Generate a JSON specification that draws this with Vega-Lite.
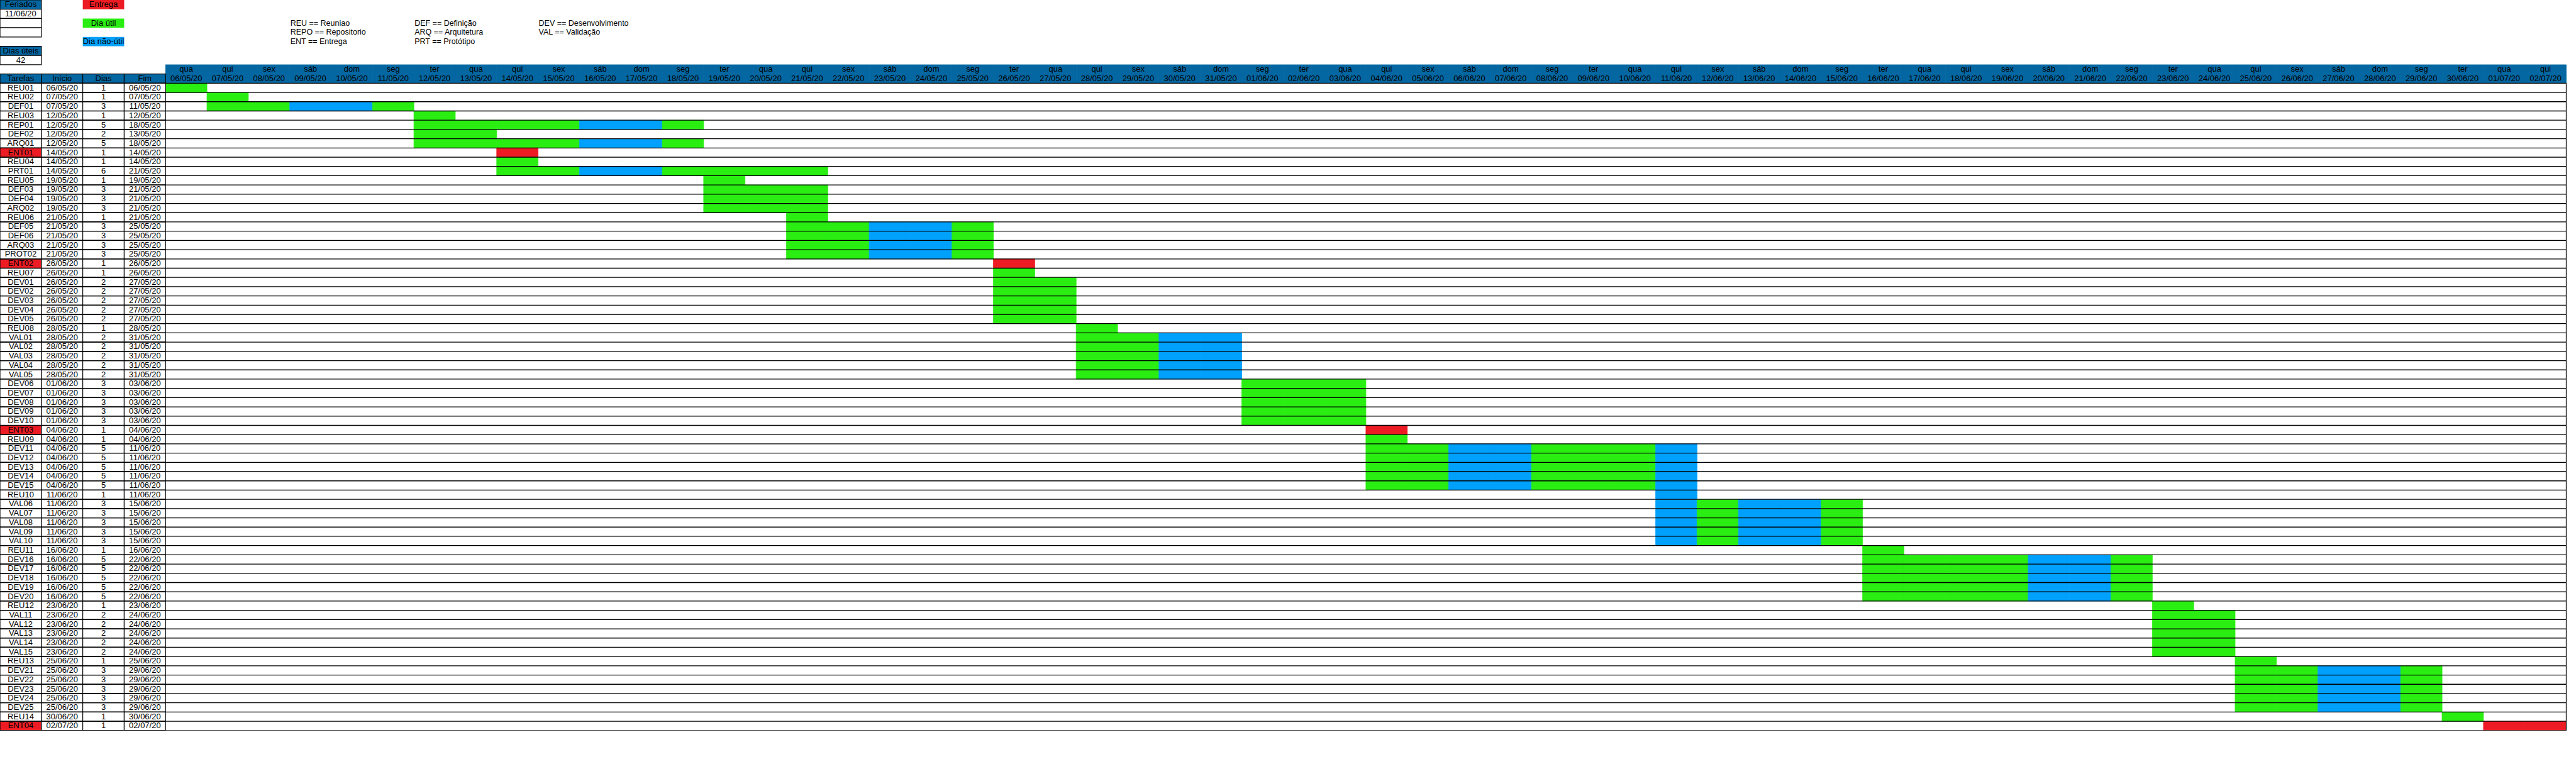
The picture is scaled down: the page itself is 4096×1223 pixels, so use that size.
{
  "$schema": "https://vega.github.io/schema/vega-lite/v6.json",
  "width": 4080.5,
  "height": 1161.8,
  "autosize": {"type": "none"},
  "padding": 0,
  "background": "white",
  "config": {"view": {"stroke": null}},
  "datasets": {
    "dias": [
      {"data":"06/05/20","semana":"qua"},{"data":"07/05/20","semana":"qui"},{"data":"08/05/20","semana":"sex"},{"data":"09/05/20","semana":"sáb"},{"data":"10/05/20","semana":"dom"},{"data":"11/05/20","semana":"seg"},{"data":"12/05/20","semana":"ter"},
      {"data":"13/05/20","semana":"qua"},{"data":"14/05/20","semana":"qui"},{"data":"15/05/20","semana":"sex"},{"data":"16/05/20","semana":"sáb"},{"data":"17/05/20","semana":"dom"},{"data":"18/05/20","semana":"seg"},{"data":"19/05/20","semana":"ter"},
      {"data":"20/05/20","semana":"qua"},{"data":"21/05/20","semana":"qui"},{"data":"22/05/20","semana":"sex"},{"data":"23/05/20","semana":"sáb"},{"data":"24/05/20","semana":"dom"},{"data":"25/05/20","semana":"seg"},{"data":"26/05/20","semana":"ter"},
      {"data":"27/05/20","semana":"qua"},{"data":"28/05/20","semana":"qui"},{"data":"29/05/20","semana":"sex"},{"data":"30/05/20","semana":"sáb"},{"data":"31/05/20","semana":"dom"},{"data":"01/06/20","semana":"seg"},{"data":"02/06/20","semana":"ter"},
      {"data":"03/06/20","semana":"qua"},{"data":"04/06/20","semana":"qui"},{"data":"05/06/20","semana":"sex"},{"data":"06/06/20","semana":"sáb"},{"data":"07/06/20","semana":"dom"},{"data":"08/06/20","semana":"seg"},{"data":"09/06/20","semana":"ter"},
      {"data":"10/06/20","semana":"qua"},{"data":"11/06/20","semana":"qui"},{"data":"12/06/20","semana":"sex"},{"data":"13/06/20","semana":"sáb"},{"data":"14/06/20","semana":"dom"},{"data":"15/06/20","semana":"seg"},{"data":"16/06/20","semana":"ter"},
      {"data":"17/06/20","semana":"qua"},{"data":"18/06/20","semana":"qui"},{"data":"19/06/20","semana":"sex"},{"data":"20/06/20","semana":"sáb"},{"data":"21/06/20","semana":"dom"},{"data":"22/06/20","semana":"seg"},{"data":"23/06/20","semana":"ter"},
      {"data":"24/06/20","semana":"qua"},{"data":"25/06/20","semana":"qui"},{"data":"26/06/20","semana":"sex"},{"data":"27/06/20","semana":"sáb"},{"data":"28/06/20","semana":"dom"},{"data":"29/06/20","semana":"seg"},{"data":"30/06/20","semana":"ter"},
      {"data":"01/07/20","semana":"qua"},{"data":"02/07/20","semana":"qui"}
    ],
    "tarefas": [
      {"Tarefas":"REU01","Início":"06/05/20","Dias":1,"Fim":"06/05/20"},
      {"Tarefas":"REU02","Início":"07/05/20","Dias":1,"Fim":"07/05/20"},
      {"Tarefas":"DEF01","Início":"07/05/20","Dias":3,"Fim":"11/05/20"},
      {"Tarefas":"REU03","Início":"12/05/20","Dias":1,"Fim":"12/05/20"},
      {"Tarefas":"REP01","Início":"12/05/20","Dias":5,"Fim":"18/05/20"},
      {"Tarefas":"DEF02","Início":"12/05/20","Dias":2,"Fim":"13/05/20"},
      {"Tarefas":"ARQ01","Início":"12/05/20","Dias":5,"Fim":"18/05/20"},
      {"Tarefas":"ENT01","Início":"14/05/20","Dias":1,"Fim":"14/05/20"},
      {"Tarefas":"REU04","Início":"14/05/20","Dias":1,"Fim":"14/05/20"},
      {"Tarefas":"PRT01","Início":"14/05/20","Dias":6,"Fim":"21/05/20"},
      {"Tarefas":"REU05","Início":"19/05/20","Dias":1,"Fim":"19/05/20"},
      {"Tarefas":"DEF03","Início":"19/05/20","Dias":3,"Fim":"21/05/20"},
      {"Tarefas":"DEF04","Início":"19/05/20","Dias":3,"Fim":"21/05/20"},
      {"Tarefas":"ARQ02","Início":"19/05/20","Dias":3,"Fim":"21/05/20"},
      {"Tarefas":"REU06","Início":"21/05/20","Dias":1,"Fim":"21/05/20"},
      {"Tarefas":"DEF05","Início":"21/05/20","Dias":3,"Fim":"25/05/20"},
      {"Tarefas":"DEF06","Início":"21/05/20","Dias":3,"Fim":"25/05/20"},
      {"Tarefas":"ARQ03","Início":"21/05/20","Dias":3,"Fim":"25/05/20"},
      {"Tarefas":"PROT02","Início":"21/05/20","Dias":3,"Fim":"25/05/20"},
      {"Tarefas":"ENT02","Início":"26/05/20","Dias":1,"Fim":"26/05/20"},
      {"Tarefas":"REU07","Início":"26/05/20","Dias":1,"Fim":"26/05/20"},
      {"Tarefas":"DEV01","Início":"26/05/20","Dias":2,"Fim":"27/05/20"},
      {"Tarefas":"DEV02","Início":"26/05/20","Dias":2,"Fim":"27/05/20"},
      {"Tarefas":"DEV03","Início":"26/05/20","Dias":2,"Fim":"27/05/20"},
      {"Tarefas":"DEV04","Início":"26/05/20","Dias":2,"Fim":"27/05/20"},
      {"Tarefas":"DEV05","Início":"26/05/20","Dias":2,"Fim":"27/05/20"},
      {"Tarefas":"REU08","Início":"28/05/20","Dias":1,"Fim":"28/05/20"},
      {"Tarefas":"VAL01","Início":"28/05/20","Dias":2,"Fim":"31/05/20"},
      {"Tarefas":"VAL02","Início":"28/05/20","Dias":2,"Fim":"31/05/20"},
      {"Tarefas":"VAL03","Início":"28/05/20","Dias":2,"Fim":"31/05/20"},
      {"Tarefas":"VAL04","Início":"28/05/20","Dias":2,"Fim":"31/05/20"},
      {"Tarefas":"VAL05","Início":"28/05/20","Dias":2,"Fim":"31/05/20"},
      {"Tarefas":"DEV06","Início":"01/06/20","Dias":3,"Fim":"03/06/20"},
      {"Tarefas":"DEV07","Início":"01/06/20","Dias":3,"Fim":"03/06/20"},
      {"Tarefas":"DEV08","Início":"01/06/20","Dias":3,"Fim":"03/06/20"},
      {"Tarefas":"DEV09","Início":"01/06/20","Dias":3,"Fim":"03/06/20"},
      {"Tarefas":"DEV10","Início":"01/06/20","Dias":3,"Fim":"03/06/20"},
      {"Tarefas":"ENT03","Início":"04/06/20","Dias":1,"Fim":"04/06/20"},
      {"Tarefas":"REU09","Início":"04/06/20","Dias":1,"Fim":"04/06/20"},
      {"Tarefas":"DEV11","Início":"04/06/20","Dias":5,"Fim":"11/06/20"},
      {"Tarefas":"DEV12","Início":"04/06/20","Dias":5,"Fim":"11/06/20"},
      {"Tarefas":"DEV13","Início":"04/06/20","Dias":5,"Fim":"11/06/20"},
      {"Tarefas":"DEV14","Início":"04/06/20","Dias":5,"Fim":"11/06/20"},
      {"Tarefas":"DEV15","Início":"04/06/20","Dias":5,"Fim":"11/06/20"},
      {"Tarefas":"REU10","Início":"11/06/20","Dias":1,"Fim":"11/06/20"},
      {"Tarefas":"VAL06","Início":"11/06/20","Dias":3,"Fim":"15/06/20"},
      {"Tarefas":"VAL07","Início":"11/06/20","Dias":3,"Fim":"15/06/20"},
      {"Tarefas":"VAL08","Início":"11/06/20","Dias":3,"Fim":"15/06/20"},
      {"Tarefas":"VAL09","Início":"11/06/20","Dias":3,"Fim":"15/06/20"},
      {"Tarefas":"VAL10","Início":"11/06/20","Dias":3,"Fim":"15/06/20"},
      {"Tarefas":"REU11","Início":"16/06/20","Dias":1,"Fim":"16/06/20"},
      {"Tarefas":"DEV16","Início":"16/06/20","Dias":5,"Fim":"22/06/20"},
      {"Tarefas":"DEV17","Início":"16/06/20","Dias":5,"Fim":"22/06/20"},
      {"Tarefas":"DEV18","Início":"16/06/20","Dias":5,"Fim":"22/06/20"},
      {"Tarefas":"DEV19","Início":"16/06/20","Dias":5,"Fim":"22/06/20"},
      {"Tarefas":"DEV20","Início":"16/06/20","Dias":5,"Fim":"22/06/20"},
      {"Tarefas":"REU12","Início":"23/06/20","Dias":1,"Fim":"23/06/20"},
      {"Tarefas":"VAL11","Início":"23/06/20","Dias":2,"Fim":"24/06/20"},
      {"Tarefas":"VAL12","Início":"23/06/20","Dias":2,"Fim":"24/06/20"},
      {"Tarefas":"VAL13","Início":"23/06/20","Dias":2,"Fim":"24/06/20"},
      {"Tarefas":"VAL14","Início":"23/06/20","Dias":2,"Fim":"24/06/20"},
      {"Tarefas":"VAL15","Início":"23/06/20","Dias":2,"Fim":"24/06/20"},
      {"Tarefas":"REU13","Início":"25/06/20","Dias":1,"Fim":"25/06/20"},
      {"Tarefas":"DEV21","Início":"25/06/20","Dias":3,"Fim":"29/06/20"},
      {"Tarefas":"DEV22","Início":"25/06/20","Dias":3,"Fim":"29/06/20"},
      {"Tarefas":"DEV23","Início":"25/06/20","Dias":3,"Fim":"29/06/20"},
      {"Tarefas":"DEV24","Início":"25/06/20","Dias":3,"Fim":"29/06/20"},
      {"Tarefas":"DEV25","Início":"25/06/20","Dias":3,"Fim":"29/06/20"},
      {"Tarefas":"REU14","Início":"30/06/20","Dias":1,"Fim":"30/06/20"},
      {"Tarefas":"ENT04","Início":"02/07/20","Dias":1,"Fim":"02/07/20"}
    ],
    "cabecalho": [{"coluna":"Tarefas"},{"coluna":"Início"},{"coluna":"Dias"},{"coluna":"Fim"}],
    "celulas": [
      {"tarefa":"REU01","dia":"06/05/20","tipo":"Dia útil"},
      {"tarefa":"REU02","dia":"07/05/20","tipo":"Dia útil"},
      {"tarefa":"DEF01","dia":"07/05/20","tipo":"Dia útil"},{"tarefa":"DEF01","dia":"08/05/20","tipo":"Dia útil"},{"tarefa":"DEF01","dia":"09/05/20","tipo":"Dia não-útil"},{"tarefa":"DEF01","dia":"10/05/20","tipo":"Dia não-útil"},{"tarefa":"DEF01","dia":"11/05/20","tipo":"Dia útil"},
      {"tarefa":"REU03","dia":"12/05/20","tipo":"Dia útil"},
      {"tarefa":"REP01","dia":"12/05/20","tipo":"Dia útil"},{"tarefa":"REP01","dia":"13/05/20","tipo":"Dia útil"},{"tarefa":"REP01","dia":"14/05/20","tipo":"Dia útil"},{"tarefa":"REP01","dia":"15/05/20","tipo":"Dia útil"},{"tarefa":"REP01","dia":"16/05/20","tipo":"Dia não-útil"},{"tarefa":"REP01","dia":"17/05/20","tipo":"Dia não-útil"},{"tarefa":"REP01","dia":"18/05/20","tipo":"Dia útil"},
      {"tarefa":"DEF02","dia":"12/05/20","tipo":"Dia útil"},{"tarefa":"DEF02","dia":"13/05/20","tipo":"Dia útil"},
      {"tarefa":"ARQ01","dia":"12/05/20","tipo":"Dia útil"},{"tarefa":"ARQ01","dia":"13/05/20","tipo":"Dia útil"},{"tarefa":"ARQ01","dia":"14/05/20","tipo":"Dia útil"},{"tarefa":"ARQ01","dia":"15/05/20","tipo":"Dia útil"},{"tarefa":"ARQ01","dia":"16/05/20","tipo":"Dia não-útil"},{"tarefa":"ARQ01","dia":"17/05/20","tipo":"Dia não-útil"},{"tarefa":"ARQ01","dia":"18/05/20","tipo":"Dia útil"},
      {"tarefa":"ENT01","dia":"14/05/20","tipo":"Entrega"},
      {"tarefa":"REU04","dia":"14/05/20","tipo":"Dia útil"},
      {"tarefa":"PRT01","dia":"14/05/20","tipo":"Dia útil"},{"tarefa":"PRT01","dia":"15/05/20","tipo":"Dia útil"},{"tarefa":"PRT01","dia":"16/05/20","tipo":"Dia não-útil"},{"tarefa":"PRT01","dia":"17/05/20","tipo":"Dia não-útil"},{"tarefa":"PRT01","dia":"18/05/20","tipo":"Dia útil"},{"tarefa":"PRT01","dia":"19/05/20","tipo":"Dia útil"},{"tarefa":"PRT01","dia":"20/05/20","tipo":"Dia útil"},{"tarefa":"PRT01","dia":"21/05/20","tipo":"Dia útil"},
      {"tarefa":"REU05","dia":"19/05/20","tipo":"Dia útil"},
      {"tarefa":"DEF03","dia":"19/05/20","tipo":"Dia útil"},{"tarefa":"DEF03","dia":"20/05/20","tipo":"Dia útil"},{"tarefa":"DEF03","dia":"21/05/20","tipo":"Dia útil"},
      {"tarefa":"DEF04","dia":"19/05/20","tipo":"Dia útil"},{"tarefa":"DEF04","dia":"20/05/20","tipo":"Dia útil"},{"tarefa":"DEF04","dia":"21/05/20","tipo":"Dia útil"},
      {"tarefa":"ARQ02","dia":"19/05/20","tipo":"Dia útil"},{"tarefa":"ARQ02","dia":"20/05/20","tipo":"Dia útil"},{"tarefa":"ARQ02","dia":"21/05/20","tipo":"Dia útil"},
      {"tarefa":"REU06","dia":"21/05/20","tipo":"Dia útil"},
      {"tarefa":"DEF05","dia":"21/05/20","tipo":"Dia útil"},{"tarefa":"DEF05","dia":"22/05/20","tipo":"Dia útil"},{"tarefa":"DEF05","dia":"23/05/20","tipo":"Dia não-útil"},{"tarefa":"DEF05","dia":"24/05/20","tipo":"Dia não-útil"},{"tarefa":"DEF05","dia":"25/05/20","tipo":"Dia útil"},
      {"tarefa":"DEF06","dia":"21/05/20","tipo":"Dia útil"},{"tarefa":"DEF06","dia":"22/05/20","tipo":"Dia útil"},{"tarefa":"DEF06","dia":"23/05/20","tipo":"Dia não-útil"},{"tarefa":"DEF06","dia":"24/05/20","tipo":"Dia não-útil"},{"tarefa":"DEF06","dia":"25/05/20","tipo":"Dia útil"},
      {"tarefa":"ARQ03","dia":"21/05/20","tipo":"Dia útil"},{"tarefa":"ARQ03","dia":"22/05/20","tipo":"Dia útil"},{"tarefa":"ARQ03","dia":"23/05/20","tipo":"Dia não-útil"},{"tarefa":"ARQ03","dia":"24/05/20","tipo":"Dia não-útil"},{"tarefa":"ARQ03","dia":"25/05/20","tipo":"Dia útil"},
      {"tarefa":"PROT02","dia":"21/05/20","tipo":"Dia útil"},{"tarefa":"PROT02","dia":"22/05/20","tipo":"Dia útil"},{"tarefa":"PROT02","dia":"23/05/20","tipo":"Dia não-útil"},{"tarefa":"PROT02","dia":"24/05/20","tipo":"Dia não-útil"},{"tarefa":"PROT02","dia":"25/05/20","tipo":"Dia útil"},
      {"tarefa":"ENT02","dia":"26/05/20","tipo":"Entrega"},
      {"tarefa":"REU07","dia":"26/05/20","tipo":"Dia útil"},
      {"tarefa":"DEV01","dia":"26/05/20","tipo":"Dia útil"},{"tarefa":"DEV01","dia":"27/05/20","tipo":"Dia útil"},
      {"tarefa":"DEV02","dia":"26/05/20","tipo":"Dia útil"},{"tarefa":"DEV02","dia":"27/05/20","tipo":"Dia útil"},
      {"tarefa":"DEV03","dia":"26/05/20","tipo":"Dia útil"},{"tarefa":"DEV03","dia":"27/05/20","tipo":"Dia útil"},
      {"tarefa":"DEV04","dia":"26/05/20","tipo":"Dia útil"},{"tarefa":"DEV04","dia":"27/05/20","tipo":"Dia útil"},
      {"tarefa":"DEV05","dia":"26/05/20","tipo":"Dia útil"},{"tarefa":"DEV05","dia":"27/05/20","tipo":"Dia útil"},
      {"tarefa":"REU08","dia":"28/05/20","tipo":"Dia útil"},
      {"tarefa":"VAL01","dia":"28/05/20","tipo":"Dia útil"},{"tarefa":"VAL01","dia":"29/05/20","tipo":"Dia útil"},{"tarefa":"VAL01","dia":"30/05/20","tipo":"Dia não-útil"},{"tarefa":"VAL01","dia":"31/05/20","tipo":"Dia não-útil"},
      {"tarefa":"VAL02","dia":"28/05/20","tipo":"Dia útil"},{"tarefa":"VAL02","dia":"29/05/20","tipo":"Dia útil"},{"tarefa":"VAL02","dia":"30/05/20","tipo":"Dia não-útil"},{"tarefa":"VAL02","dia":"31/05/20","tipo":"Dia não-útil"},
      {"tarefa":"VAL03","dia":"28/05/20","tipo":"Dia útil"},{"tarefa":"VAL03","dia":"29/05/20","tipo":"Dia útil"},{"tarefa":"VAL03","dia":"30/05/20","tipo":"Dia não-útil"},{"tarefa":"VAL03","dia":"31/05/20","tipo":"Dia não-útil"},
      {"tarefa":"VAL04","dia":"28/05/20","tipo":"Dia útil"},{"tarefa":"VAL04","dia":"29/05/20","tipo":"Dia útil"},{"tarefa":"VAL04","dia":"30/05/20","tipo":"Dia não-útil"},{"tarefa":"VAL04","dia":"31/05/20","tipo":"Dia não-útil"},
      {"tarefa":"VAL05","dia":"28/05/20","tipo":"Dia útil"},{"tarefa":"VAL05","dia":"29/05/20","tipo":"Dia útil"},{"tarefa":"VAL05","dia":"30/05/20","tipo":"Dia não-útil"},{"tarefa":"VAL05","dia":"31/05/20","tipo":"Dia não-útil"},
      {"tarefa":"DEV06","dia":"01/06/20","tipo":"Dia útil"},{"tarefa":"DEV06","dia":"02/06/20","tipo":"Dia útil"},{"tarefa":"DEV06","dia":"03/06/20","tipo":"Dia útil"},
      {"tarefa":"DEV07","dia":"01/06/20","tipo":"Dia útil"},{"tarefa":"DEV07","dia":"02/06/20","tipo":"Dia útil"},{"tarefa":"DEV07","dia":"03/06/20","tipo":"Dia útil"},
      {"tarefa":"DEV08","dia":"01/06/20","tipo":"Dia útil"},{"tarefa":"DEV08","dia":"02/06/20","tipo":"Dia útil"},{"tarefa":"DEV08","dia":"03/06/20","tipo":"Dia útil"},
      {"tarefa":"DEV09","dia":"01/06/20","tipo":"Dia útil"},{"tarefa":"DEV09","dia":"02/06/20","tipo":"Dia útil"},{"tarefa":"DEV09","dia":"03/06/20","tipo":"Dia útil"},
      {"tarefa":"DEV10","dia":"01/06/20","tipo":"Dia útil"},{"tarefa":"DEV10","dia":"02/06/20","tipo":"Dia útil"},{"tarefa":"DEV10","dia":"03/06/20","tipo":"Dia útil"},
      {"tarefa":"ENT03","dia":"04/06/20","tipo":"Entrega"},
      {"tarefa":"REU09","dia":"04/06/20","tipo":"Dia útil"},
      {"tarefa":"DEV11","dia":"04/06/20","tipo":"Dia útil"},{"tarefa":"DEV11","dia":"05/06/20","tipo":"Dia útil"},{"tarefa":"DEV11","dia":"06/06/20","tipo":"Dia não-útil"},{"tarefa":"DEV11","dia":"07/06/20","tipo":"Dia não-útil"},{"tarefa":"DEV11","dia":"08/06/20","tipo":"Dia útil"},{"tarefa":"DEV11","dia":"09/06/20","tipo":"Dia útil"},{"tarefa":"DEV11","dia":"10/06/20","tipo":"Dia útil"},{"tarefa":"DEV11","dia":"11/06/20","tipo":"Dia não-útil"},
      {"tarefa":"DEV12","dia":"04/06/20","tipo":"Dia útil"},{"tarefa":"DEV12","dia":"05/06/20","tipo":"Dia útil"},{"tarefa":"DEV12","dia":"06/06/20","tipo":"Dia não-útil"},{"tarefa":"DEV12","dia":"07/06/20","tipo":"Dia não-útil"},{"tarefa":"DEV12","dia":"08/06/20","tipo":"Dia útil"},{"tarefa":"DEV12","dia":"09/06/20","tipo":"Dia útil"},{"tarefa":"DEV12","dia":"10/06/20","tipo":"Dia útil"},{"tarefa":"DEV12","dia":"11/06/20","tipo":"Dia não-útil"},
      {"tarefa":"DEV13","dia":"04/06/20","tipo":"Dia útil"},{"tarefa":"DEV13","dia":"05/06/20","tipo":"Dia útil"},{"tarefa":"DEV13","dia":"06/06/20","tipo":"Dia não-útil"},{"tarefa":"DEV13","dia":"07/06/20","tipo":"Dia não-útil"},{"tarefa":"DEV13","dia":"08/06/20","tipo":"Dia útil"},{"tarefa":"DEV13","dia":"09/06/20","tipo":"Dia útil"},{"tarefa":"DEV13","dia":"10/06/20","tipo":"Dia útil"},{"tarefa":"DEV13","dia":"11/06/20","tipo":"Dia não-útil"},
      {"tarefa":"DEV14","dia":"04/06/20","tipo":"Dia útil"},{"tarefa":"DEV14","dia":"05/06/20","tipo":"Dia útil"},{"tarefa":"DEV14","dia":"06/06/20","tipo":"Dia não-útil"},{"tarefa":"DEV14","dia":"07/06/20","tipo":"Dia não-útil"},{"tarefa":"DEV14","dia":"08/06/20","tipo":"Dia útil"},{"tarefa":"DEV14","dia":"09/06/20","tipo":"Dia útil"},{"tarefa":"DEV14","dia":"10/06/20","tipo":"Dia útil"},{"tarefa":"DEV14","dia":"11/06/20","tipo":"Dia não-útil"},
      {"tarefa":"DEV15","dia":"04/06/20","tipo":"Dia útil"},{"tarefa":"DEV15","dia":"05/06/20","tipo":"Dia útil"},{"tarefa":"DEV15","dia":"06/06/20","tipo":"Dia não-útil"},{"tarefa":"DEV15","dia":"07/06/20","tipo":"Dia não-útil"},{"tarefa":"DEV15","dia":"08/06/20","tipo":"Dia útil"},{"tarefa":"DEV15","dia":"09/06/20","tipo":"Dia útil"},{"tarefa":"DEV15","dia":"10/06/20","tipo":"Dia útil"},{"tarefa":"DEV15","dia":"11/06/20","tipo":"Dia não-útil"},
      {"tarefa":"REU10","dia":"11/06/20","tipo":"Dia não-útil"},
      {"tarefa":"VAL06","dia":"11/06/20","tipo":"Dia não-útil"},{"tarefa":"VAL06","dia":"12/06/20","tipo":"Dia útil"},{"tarefa":"VAL06","dia":"13/06/20","tipo":"Dia não-útil"},{"tarefa":"VAL06","dia":"14/06/20","tipo":"Dia não-útil"},{"tarefa":"VAL06","dia":"15/06/20","tipo":"Dia útil"},
      {"tarefa":"VAL07","dia":"11/06/20","tipo":"Dia não-útil"},{"tarefa":"VAL07","dia":"12/06/20","tipo":"Dia útil"},{"tarefa":"VAL07","dia":"13/06/20","tipo":"Dia não-útil"},{"tarefa":"VAL07","dia":"14/06/20","tipo":"Dia não-útil"},{"tarefa":"VAL07","dia":"15/06/20","tipo":"Dia útil"},
      {"tarefa":"VAL08","dia":"11/06/20","tipo":"Dia não-útil"},{"tarefa":"VAL08","dia":"12/06/20","tipo":"Dia útil"},{"tarefa":"VAL08","dia":"13/06/20","tipo":"Dia não-útil"},{"tarefa":"VAL08","dia":"14/06/20","tipo":"Dia não-útil"},{"tarefa":"VAL08","dia":"15/06/20","tipo":"Dia útil"},
      {"tarefa":"VAL09","dia":"11/06/20","tipo":"Dia não-útil"},{"tarefa":"VAL09","dia":"12/06/20","tipo":"Dia útil"},{"tarefa":"VAL09","dia":"13/06/20","tipo":"Dia não-útil"},{"tarefa":"VAL09","dia":"14/06/20","tipo":"Dia não-útil"},{"tarefa":"VAL09","dia":"15/06/20","tipo":"Dia útil"},
      {"tarefa":"VAL10","dia":"11/06/20","tipo":"Dia não-útil"},{"tarefa":"VAL10","dia":"12/06/20","tipo":"Dia útil"},{"tarefa":"VAL10","dia":"13/06/20","tipo":"Dia não-útil"},{"tarefa":"VAL10","dia":"14/06/20","tipo":"Dia não-útil"},{"tarefa":"VAL10","dia":"15/06/20","tipo":"Dia útil"},
      {"tarefa":"REU11","dia":"16/06/20","tipo":"Dia útil"},
      {"tarefa":"DEV16","dia":"16/06/20","tipo":"Dia útil"},{"tarefa":"DEV16","dia":"17/06/20","tipo":"Dia útil"},{"tarefa":"DEV16","dia":"18/06/20","tipo":"Dia útil"},{"tarefa":"DEV16","dia":"19/06/20","tipo":"Dia útil"},{"tarefa":"DEV16","dia":"20/06/20","tipo":"Dia não-útil"},{"tarefa":"DEV16","dia":"21/06/20","tipo":"Dia não-útil"},{"tarefa":"DEV16","dia":"22/06/20","tipo":"Dia útil"},
      {"tarefa":"DEV17","dia":"16/06/20","tipo":"Dia útil"},{"tarefa":"DEV17","dia":"17/06/20","tipo":"Dia útil"},{"tarefa":"DEV17","dia":"18/06/20","tipo":"Dia útil"},{"tarefa":"DEV17","dia":"19/06/20","tipo":"Dia útil"},{"tarefa":"DEV17","dia":"20/06/20","tipo":"Dia não-útil"},{"tarefa":"DEV17","dia":"21/06/20","tipo":"Dia não-útil"},{"tarefa":"DEV17","dia":"22/06/20","tipo":"Dia útil"},
      {"tarefa":"DEV18","dia":"16/06/20","tipo":"Dia útil"},{"tarefa":"DEV18","dia":"17/06/20","tipo":"Dia útil"},{"tarefa":"DEV18","dia":"18/06/20","tipo":"Dia útil"},{"tarefa":"DEV18","dia":"19/06/20","tipo":"Dia útil"},{"tarefa":"DEV18","dia":"20/06/20","tipo":"Dia não-útil"},{"tarefa":"DEV18","dia":"21/06/20","tipo":"Dia não-útil"},{"tarefa":"DEV18","dia":"22/06/20","tipo":"Dia útil"},
      {"tarefa":"DEV19","dia":"16/06/20","tipo":"Dia útil"},{"tarefa":"DEV19","dia":"17/06/20","tipo":"Dia útil"},{"tarefa":"DEV19","dia":"18/06/20","tipo":"Dia útil"},{"tarefa":"DEV19","dia":"19/06/20","tipo":"Dia útil"},{"tarefa":"DEV19","dia":"20/06/20","tipo":"Dia não-útil"},{"tarefa":"DEV19","dia":"21/06/20","tipo":"Dia não-útil"},{"tarefa":"DEV19","dia":"22/06/20","tipo":"Dia útil"},
      {"tarefa":"DEV20","dia":"16/06/20","tipo":"Dia útil"},{"tarefa":"DEV20","dia":"17/06/20","tipo":"Dia útil"},{"tarefa":"DEV20","dia":"18/06/20","tipo":"Dia útil"},{"tarefa":"DEV20","dia":"19/06/20","tipo":"Dia útil"},{"tarefa":"DEV20","dia":"20/06/20","tipo":"Dia não-útil"},{"tarefa":"DEV20","dia":"21/06/20","tipo":"Dia não-útil"},{"tarefa":"DEV20","dia":"22/06/20","tipo":"Dia útil"},
      {"tarefa":"REU12","dia":"23/06/20","tipo":"Dia útil"},
      {"tarefa":"VAL11","dia":"23/06/20","tipo":"Dia útil"},{"tarefa":"VAL11","dia":"24/06/20","tipo":"Dia útil"},
      {"tarefa":"VAL12","dia":"23/06/20","tipo":"Dia útil"},{"tarefa":"VAL12","dia":"24/06/20","tipo":"Dia útil"},
      {"tarefa":"VAL13","dia":"23/06/20","tipo":"Dia útil"},{"tarefa":"VAL13","dia":"24/06/20","tipo":"Dia útil"},
      {"tarefa":"VAL14","dia":"23/06/20","tipo":"Dia útil"},{"tarefa":"VAL14","dia":"24/06/20","tipo":"Dia útil"},
      {"tarefa":"VAL15","dia":"23/06/20","tipo":"Dia útil"},{"tarefa":"VAL15","dia":"24/06/20","tipo":"Dia útil"},
      {"tarefa":"REU13","dia":"25/06/20","tipo":"Dia útil"},
      {"tarefa":"DEV21","dia":"25/06/20","tipo":"Dia útil"},{"tarefa":"DEV21","dia":"26/06/20","tipo":"Dia útil"},{"tarefa":"DEV21","dia":"27/06/20","tipo":"Dia não-útil"},{"tarefa":"DEV21","dia":"28/06/20","tipo":"Dia não-útil"},{"tarefa":"DEV21","dia":"29/06/20","tipo":"Dia útil"},
      {"tarefa":"DEV22","dia":"25/06/20","tipo":"Dia útil"},{"tarefa":"DEV22","dia":"26/06/20","tipo":"Dia útil"},{"tarefa":"DEV22","dia":"27/06/20","tipo":"Dia não-útil"},{"tarefa":"DEV22","dia":"28/06/20","tipo":"Dia não-útil"},{"tarefa":"DEV22","dia":"29/06/20","tipo":"Dia útil"},
      {"tarefa":"DEV23","dia":"25/06/20","tipo":"Dia útil"},{"tarefa":"DEV23","dia":"26/06/20","tipo":"Dia útil"},{"tarefa":"DEV23","dia":"27/06/20","tipo":"Dia não-útil"},{"tarefa":"DEV23","dia":"28/06/20","tipo":"Dia não-útil"},{"tarefa":"DEV23","dia":"29/06/20","tipo":"Dia útil"},
      {"tarefa":"DEV24","dia":"25/06/20","tipo":"Dia útil"},{"tarefa":"DEV24","dia":"26/06/20","tipo":"Dia útil"},{"tarefa":"DEV24","dia":"27/06/20","tipo":"Dia não-útil"},{"tarefa":"DEV24","dia":"28/06/20","tipo":"Dia não-útil"},{"tarefa":"DEV24","dia":"29/06/20","tipo":"Dia útil"},
      {"tarefa":"DEV25","dia":"25/06/20","tipo":"Dia útil"},{"tarefa":"DEV25","dia":"26/06/20","tipo":"Dia útil"},{"tarefa":"DEV25","dia":"27/06/20","tipo":"Dia não-útil"},{"tarefa":"DEV25","dia":"28/06/20","tipo":"Dia não-útil"},{"tarefa":"DEV25","dia":"29/06/20","tipo":"Dia útil"},
      {"tarefa":"REU14","dia":"30/06/20","tipo":"Dia útil"},
      {"tarefa":"ENT04","dia":"01/07/20","tipo":"Entrega"},{"tarefa":"ENT04","dia":"02/07/20","tipo":"Entrega"}
    ],
    "caixas": [
      {"texto":"Feriados","coluna":"Tarefas","linha":1,"tipo":"Cabeçalho"},
      {"texto":"11/06/20","coluna":"Tarefas","linha":2,"tipo":"Célula"},
      {"texto":"","coluna":"Tarefas","linha":3,"tipo":"Célula"},
      {"texto":"","coluna":"Tarefas","linha":4,"tipo":"Célula"},
      {"texto":"Dias úteis","coluna":"Tarefas","linha":6,"tipo":"Cabeçalho"},
      {"texto":"42","coluna":"Tarefas","linha":7,"tipo":"Célula"},
      {"texto":"Entrega","coluna":"Dias","linha":1,"tipo":"Entrega"},
      {"texto":"Dia útil","coluna":"Dias","linha":3,"tipo":"Dia útil"},
      {"texto":"Dia não-útil","coluna":"Dias","linha":5,"tipo":"Dia não-útil"}
    ],
    "legenda": [
      {"texto":"REU == Reuniao","coluna":"09/05/20","linha":3},
      {"texto":"REPO == Repositorio","coluna":"09/05/20","linha":4},
      {"texto":"ENT == Entrega","coluna":"09/05/20","linha":5},
      {"texto":"DEF == Definição","coluna":"12/05/20","linha":3},
      {"texto":"ARQ == Arquitetura","coluna":"12/05/20","linha":4},
      {"texto":"PRT == Protótipo","coluna":"12/05/20","linha":5},
      {"texto":"DEV == Desenvolvimento","coluna":"15/05/20","linha":3},
      {"texto":"VAL == Validação","coluna":"15/05/20","linha":4}
    ]
  },
  "layer": [
    {
      "data": {"name": "dias"},
      "mark": {"type": "rect", "fill": "#0467a2", "stroke": "#0467a2", "strokeWidth": 0.8},
      "encoding": {
        "x": {"field": "data", "type": "nominal", "axis": null,
          "scale": {"type": "band", "paddingInner": 0, "paddingOuter": 0,
            "domain": ["Tarefas","Início","Dias","Fim","06/05/20","07/05/20","08/05/20","09/05/20","10/05/20","11/05/20","12/05/20","13/05/20","14/05/20","15/05/20","16/05/20","17/05/20","18/05/20","19/05/20","20/05/20","21/05/20","22/05/20","23/05/20","24/05/20","25/05/20","26/05/20","27/05/20","28/05/20","29/05/20","30/05/20","31/05/20","01/06/20","02/06/20","03/06/20","04/06/20","05/06/20","06/06/20","07/06/20","08/06/20","09/06/20","10/06/20","11/06/20","12/06/20","13/06/20","14/06/20","15/06/20","16/06/20","17/06/20","18/06/20","19/06/20","20/06/20","21/06/20","22/06/20","23/06/20","24/06/20","25/06/20","26/06/20","27/06/20","28/06/20","29/06/20","30/06/20","01/07/20","02/07/20"]}},
        "y": {"datum": 8, "type": "nominal", "axis": null,
          "scale": {"type": "band", "paddingInner": 0, "paddingOuter": 0,
            "domain": [1,2,3,4,5,6,7,8,9,"REU01","REU02","DEF01","REU03","REP01","DEF02","ARQ01","ENT01","REU04","PRT01","REU05","DEF03","DEF04","ARQ02","REU06","DEF05","DEF06","ARQ03","PROT02","ENT02","REU07","DEV01","DEV02","DEV03","DEV04","DEV05","REU08","VAL01","VAL02","VAL03","VAL04","VAL05","DEV06","DEV07","DEV08","DEV09","DEV10","ENT03","REU09","DEV11","DEV12","DEV13","DEV14","DEV15","REU10","VAL06","VAL07","VAL08","VAL09","VAL10","REU11","DEV16","DEV17","DEV18","DEV19","DEV20","REU12","VAL11","VAL12","VAL13","VAL14","VAL15","REU13","DEV21","DEV22","DEV23","DEV24","DEV25","REU14","ENT04"]}}
      }
    },
    {
      "data": {"name": "dias"},
      "mark": {"type": "rect", "fill": "#0467a2", "stroke": "#0467a2", "strokeWidth": 0.8},
      "encoding": {
        "x": {"field": "data", "type": "nominal"},
        "y": {"datum": 9, "type": "nominal"}
      }
    },
    {
      "data": {"name": "dias"},
      "mark": {"type": "text", "font": "Liberation Sans", "fontSize": 13, "fill": "#000"},
      "encoding": {
        "x": {"field": "data", "type": "nominal"},
        "y": {"datum": 8, "type": "nominal"},
        "text": {"field": "semana"}
      }
    },
    {
      "data": {"name": "dias"},
      "mark": {"type": "text", "font": "Liberation Sans", "fontSize": 13, "fill": "#000"},
      "encoding": {
        "x": {"field": "data", "type": "nominal"},
        "y": {"datum": 9, "type": "nominal"},
        "text": {"field": "data"}
      }
    },
    {
      "data": {"name": "celulas"},
      "mark": {"type": "rect", "strokeWidth": 0.8},
      "encoding": {
        "x": {"field": "dia", "type": "nominal"},
        "y": {"field": "tarefa", "type": "nominal"},
        "color": {"field": "tipo", "type": "nominal", "legend": null,
          "scale": {"domain": ["Dia útil","Dia não-útil","Entrega"], "range": ["#2aee12","#00a0fd","#ed1c24"]}},
        "stroke": {"field": "tipo", "type": "nominal", "legend": null,
          "scale": {"domain": ["Dia útil","Dia não-útil","Entrega"], "range": ["#2aee12","#00a0fd","#ed1c24"]}}
      }
    },
    {
      "data": {"name": "cabecalho"},
      "mark": {"type": "rect", "fill": "#0467a2", "stroke": "#000", "strokeWidth": 1.2},
      "encoding": {
        "x": {"field": "coluna", "type": "nominal"},
        "y": {"datum": 9, "type": "nominal"}
      }
    },
    {
      "data": {"name": "cabecalho"},
      "mark": {"type": "text", "font": "Liberation Sans", "fontSize": 13, "fill": "#000"},
      "encoding": {
        "x": {"field": "coluna", "type": "nominal"},
        "y": {"datum": 9, "type": "nominal"},
        "text": {"field": "coluna"}
      }
    },
    {
      "data": {"name": "tarefas"},
      "transform": [{"fold": ["Tarefas","Início","Dias","Fim"]}],
      "mark": {"type": "rect", "stroke": "#000", "strokeWidth": 1.2},
      "encoding": {
        "x": {"field": "key", "type": "nominal"},
        "y": {"field": "Tarefas", "type": "nominal"},
        "fill": {"condition": {"test": "datum.key === 'Tarefas' && substring(datum.Tarefas, 0, 3) === 'ENT'", "value": "#ed1c24"}, "value": "#ffffff"}
      }
    },
    {
      "data": {"name": "tarefas"},
      "transform": [{"fold": ["Tarefas","Início","Dias","Fim"]}],
      "mark": {"type": "text", "font": "Liberation Sans", "fontSize": 13, "fill": "#000"},
      "encoding": {
        "x": {"field": "key", "type": "nominal"},
        "y": {"field": "Tarefas", "type": "nominal"},
        "text": {"field": "value"}
      }
    },
    {
      "data": {"name": "tarefas"},
      "mark": {"type": "rule", "stroke": "#000", "strokeWidth": 1.3},
      "encoding": {
        "y": {"field": "Tarefas", "type": "nominal", "bandPosition": 0}
      }
    },
    {
      "data": {"values": [{}]},
      "mark": {"type": "rule", "stroke": "#000", "strokeWidth": 1.3},
      "encoding": {
        "y": {"datum": "ENT04", "type": "nominal", "bandPosition": 1}
      }
    },
    {
      "data": {"values": [{}]},
      "mark": {"type": "rule", "stroke": "#000", "strokeWidth": 1.3},
      "encoding": {
        "x": {"datum": "02/07/20", "type": "nominal", "bandPosition": 1},
        "y": {"datum": "REU01", "type": "nominal", "bandPosition": 0},
        "y2": {"datum": "ENT04", "bandPosition": 1}
      }
    },
    {
      "data": {"name": "caixas"},
      "mark": {"type": "rect", "strokeWidth": 1.2},
      "encoding": {
        "x": {"field": "coluna", "type": "nominal"},
        "y": {"field": "linha", "type": "nominal"},
        "fill": {"field": "tipo", "type": "nominal", "legend": null,
          "scale": {"domain": ["Cabeçalho","Célula","Dia útil","Dia não-útil","Entrega"], "range": ["#0467a2","#ffffff","#2aee12","#00a0fd","#ed1c24"]}},
        "stroke": {"condition": {"test": "datum.tipo === 'Cabeçalho' || datum.tipo === 'Célula'", "value": "#000"}, "value": null}
      }
    },
    {
      "data": {"name": "caixas"},
      "mark": {"type": "text", "font": "Liberation Sans", "fontSize": 13, "fill": "#000"},
      "encoding": {
        "x": {"field": "coluna", "type": "nominal"},
        "y": {"field": "linha", "type": "nominal"},
        "text": {"field": "texto"}
      }
    },
    {
      "data": {"name": "legenda"},
      "mark": {"type": "text", "font": "Liberation Sans", "fontSize": 12.5, "fill": "#000", "align": "left", "dx": 1},
      "encoding": {
        "x": {"field": "coluna", "type": "nominal", "bandPosition": 0},
        "y": {"field": "linha", "type": "nominal"},
        "text": {"field": "texto"}
      }
    }
  ]
}
